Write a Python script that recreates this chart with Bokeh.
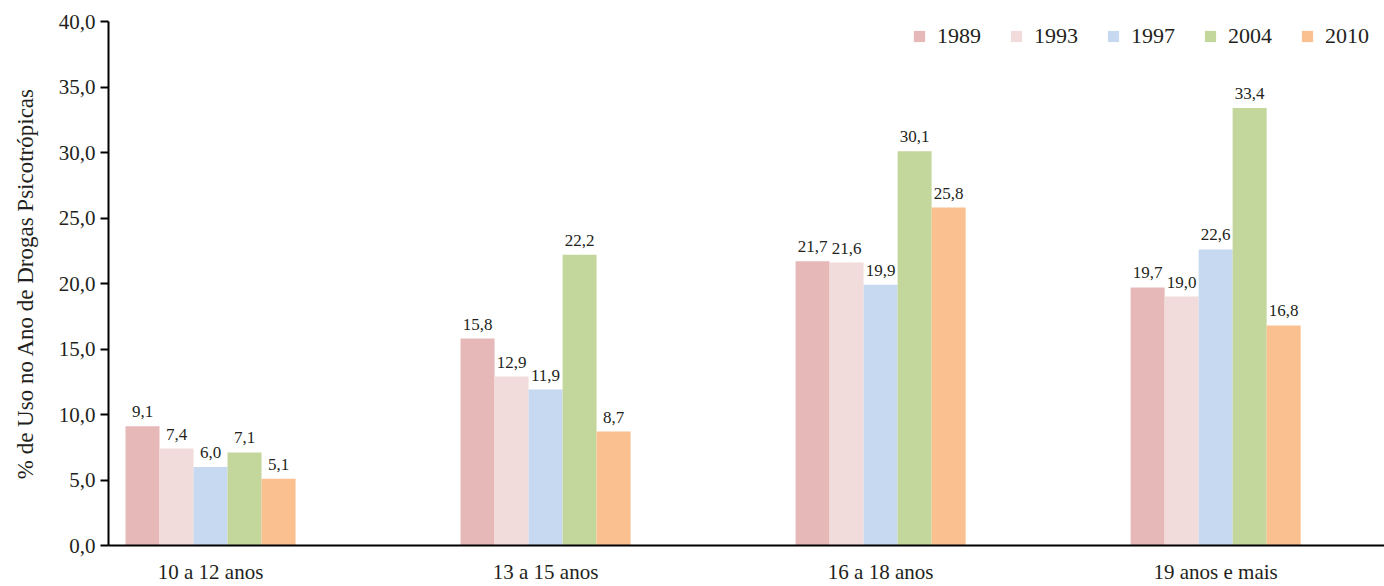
from bokeh.plotting import figure
from bokeh.models import ColumnDataSource, FixedTicker, Legend, LegendItem
from bokeh.core.properties import value
from bokeh.transform import dodge
from bokeh.embed import file_html
from bokeh.resources import INLINE

categories = ["10 a 12 anos", "13 a 15 anos", "16 a 18 anos", "19 anos e mais"]
years = ["1989", "1993", "1997", "2004", "2010"]
v1989 = [9.1, 15.8, 21.7, 19.7]
v1993 = [7.4, 12.9, 21.6, 19.0]
v1997 = [6.0, 11.9, 19.9, 22.6]
v2004 = [7.1, 22.2, 30.1, 33.4]
v2010 = [5.1, 8.7, 25.8, 16.8]
series = [v1989, v1993, v1997, v2004, v2010]
colors = ["#E6B8B7", "#F2DCDB", "#C6D9F1", "#C3D69B", "#FAC090"]
y_ticks = [0, 5, 10, 15, 20, 25, 30, 35, 40]

FONT = "Liberation Serif"

def fmt(v):
    return f"{v:.1f}".replace(".", ",")

xs = [i + 1 for i in range(len(categories))]

p = figure(width=1384, height=586, output_backend="svg", toolbar_location=None,
           x_range=(0.6955, 4.504), y_range=(0, 40),
           min_border_left=108, min_border_right=0, min_border_top=21, min_border_bottom=41)
p.outline_line_color = None
p.xgrid.grid_line_color = None
p.ygrid.grid_line_color = None

bw = 0.1015
items = []
for k, (yr, vals, col) in enumerate(zip(years, series, colors)):
    src = ColumnDataSource(dict(x=xs, top=vals, lab=[fmt(v) for v in vals]))
    off = (k - 2) * bw
    r = p.vbar(x=dodge("x", off), top="top", width=bw, source=src,
               fill_color=col, line_color=None)
    p.text(x=dodge("x", off), y="top", text="lab", source=src,
           text_align="center", text_baseline="bottom", y_offset=-9,
           text_font=value(FONT), text_font_size="17px", text_color="#231f20")
    items.append(LegendItem(label=yr, renderers=[r]))

legend = Legend(items=items, orientation="horizontal", location=(804, 496),
                label_text_font=FONT, label_text_font_size="22px",
                label_text_color="#231f20",
                glyph_width=14, glyph_height=14, spacing=28,
                border_line_color=None, background_fill_alpha=0,
                margin=0, padding=0, label_standoff=11)
p.add_layout(legend)

# y axis
p.yaxis.ticker = FixedTicker(ticks=y_ticks)
p.yaxis.major_label_overrides = {t: fmt(t) for t in y_ticks}
p.yaxis.major_label_text_font = FONT
p.yaxis.major_label_text_font_size = "21px"
p.yaxis.major_label_text_color = "#231f20"
p.yaxis.major_tick_out = 8
p.yaxis.major_tick_in = 0
p.yaxis.minor_tick_out = 0
p.yaxis.minor_tick_in = 0
p.yaxis.major_tick_line_width = 2
p.yaxis.axis_line_width = 2
p.yaxis.axis_label = "% de Uso no Ano de Drogas Psicotrópicas"
p.yaxis.axis_label_text_font = FONT
p.yaxis.axis_label_text_font_style = "normal"
p.yaxis.axis_label_text_font_size = "23px"
p.yaxis.axis_label_text_color = "#231f20"
p.yaxis.axis_label_standoff = 18

# x axis
p.xaxis.ticker = FixedTicker(ticks=xs)
p.xaxis.major_label_overrides = {x: c for x, c in zip(xs, categories)}
p.xaxis.major_label_text_font = FONT
p.xaxis.major_label_text_font_size = "21px"
p.xaxis.major_label_text_color = "#231f20"
p.xaxis.major_tick_out = 0
p.xaxis.major_tick_in = 0
p.xaxis.minor_tick_out = 0
p.xaxis.minor_tick_in = 0
p.xaxis.axis_line_width = 2
p.xaxis.major_label_standoff = 14

open("out.html", "w").write(file_html(p, INLINE))
